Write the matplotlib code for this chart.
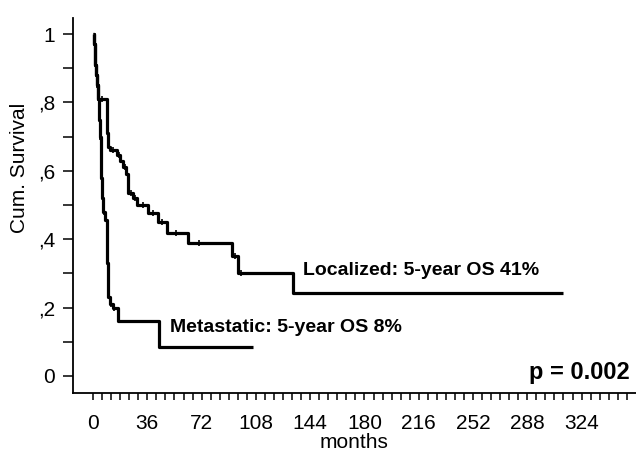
import numpy as np
import matplotlib
matplotlib.use('Agg')
import matplotlib.pyplot as plt
from matplotlib.ticker import FixedLocator, FuncFormatter

plt.rcParams['font.family'] = ['Liberation Sans', 'DejaVu Sans']

# Kaplan-Meier steps (months, cum. survival)
loc_t = [0, 0.5, 1, 1.5, 2, 2.5, 3, 9, 9.5, 10, 11, 16, 18, 20, 22, 23, 26.5, 29, 36.5, 43, 49, 63, 92, 96, 132.5, 311.5]
loc_s = [1.0, 0.97, 0.94, 0.91, 0.88, 0.85, 0.81, 0.76, 0.71, 0.67, 0.66, 0.645, 0.63, 0.61, 0.59, 0.535, 0.52, 0.50, 0.477, 0.45, 0.418, 0.389, 0.35, 0.30, 0.243, 0.243]
met_t = [0, 0.5, 1, 1.5, 2, 2.5, 3, 4, 4.5, 5, 5.5, 6, 6.5, 8, 9.3, 10, 11, 13, 16.5, 44, 106]
met_s = [1.0, 0.97, 0.94, 0.91, 0.88, 0.85, 0.81, 0.75, 0.70, 0.64, 0.58, 0.52, 0.48, 0.456, 0.33, 0.23, 0.21, 0.20, 0.16, 0.085, 0.085]

# censored observations (months)
loc_cens = [1.2, 2.8, 6, 13, 17, 21, 25, 28, 33, 40, 46, 55, 70, 94, 98]
met_cens = [4.8, 7, 12, 14]

x_major = list(range(0, 325, 36))
x_minor = list(range(0, 355, 6))
y_major = [0, 0.2, 0.4, 0.6, 0.8, 1.0]
y_minor = [i / 10 for i in range(11)]


def surv_at(times, surv, when):
    idx = np.searchsorted(times, when, side='right') - 1
    return np.asarray(surv)[idx]


def ylab(v, pos):
    if v == 0:
        return '0'
    if v == 1:
        return '1'
    return ',' + f'{v:.1f}'.split('.')[1]


fig = plt.figure(figsize=(6.36, 4.61), dpi=100)
ax = fig.add_axes([0.1148, 0.1475, 0.885, 0.8134])

lw = 2.3
ax.step(loc_t, loc_s, where='post', color='black', lw=lw, solid_capstyle='butt')
ax.step(met_t, met_s, where='post', color='black', lw=lw, solid_capstyle='butt')
ax.plot(loc_cens, surv_at(loc_t, loc_s, loc_cens), ls='none', marker='|',
        color='black', ms=5, mew=1.2)
ax.plot(met_cens, surv_at(met_t, met_s, met_cens), ls='none', marker='|',
        color='black', ms=5, mew=1.2)

ax.text(139, 0.307, 'Localized: 5-year OS 41%', fontsize=14, fontweight='bold',
        va='center', ha='left')
ax.text(51, 0.143, 'Metastatic: 5-year OS 8%', fontsize=14, fontweight='bold',
        va='center', ha='left')
ax.text(356, 0.009, 'p = 0.002', fontsize=17, fontweight='bold',
        va='center', ha='right')

ax.set_xlim(-13.3, 360)
ax.set_ylim(-0.05, 1.047)

ax.xaxis.set_major_locator(FixedLocator(x_major))
ax.xaxis.set_minor_locator(FixedLocator(x_minor))
ax.yaxis.set_major_locator(FixedLocator(y_major))
ax.yaxis.set_minor_locator(FixedLocator(y_minor))
ax.yaxis.set_major_formatter(FuncFormatter(ylab))

ax.tick_params(axis='both', which='both', direction='out', width=1.1, color='black')
ax.tick_params(axis='x', which='both', length=5, labelsize=15, pad=10)
ax.tick_params(axis='y', which='both', length=7, labelsize=15, pad=6)

for side in ['top', 'right']:
    ax.spines[side].set_visible(False)
for side in ['left', 'bottom']:
    ax.spines[side].set_linewidth(1.3)

ax.set_xlabel('months', fontsize=15, labelpad=0)
ax.set_ylabel('Cum. Survival', fontsize=15)
ax.yaxis.set_label_coords(-0.078, 0.6)

fig.savefig('out.png', dpi=100)
